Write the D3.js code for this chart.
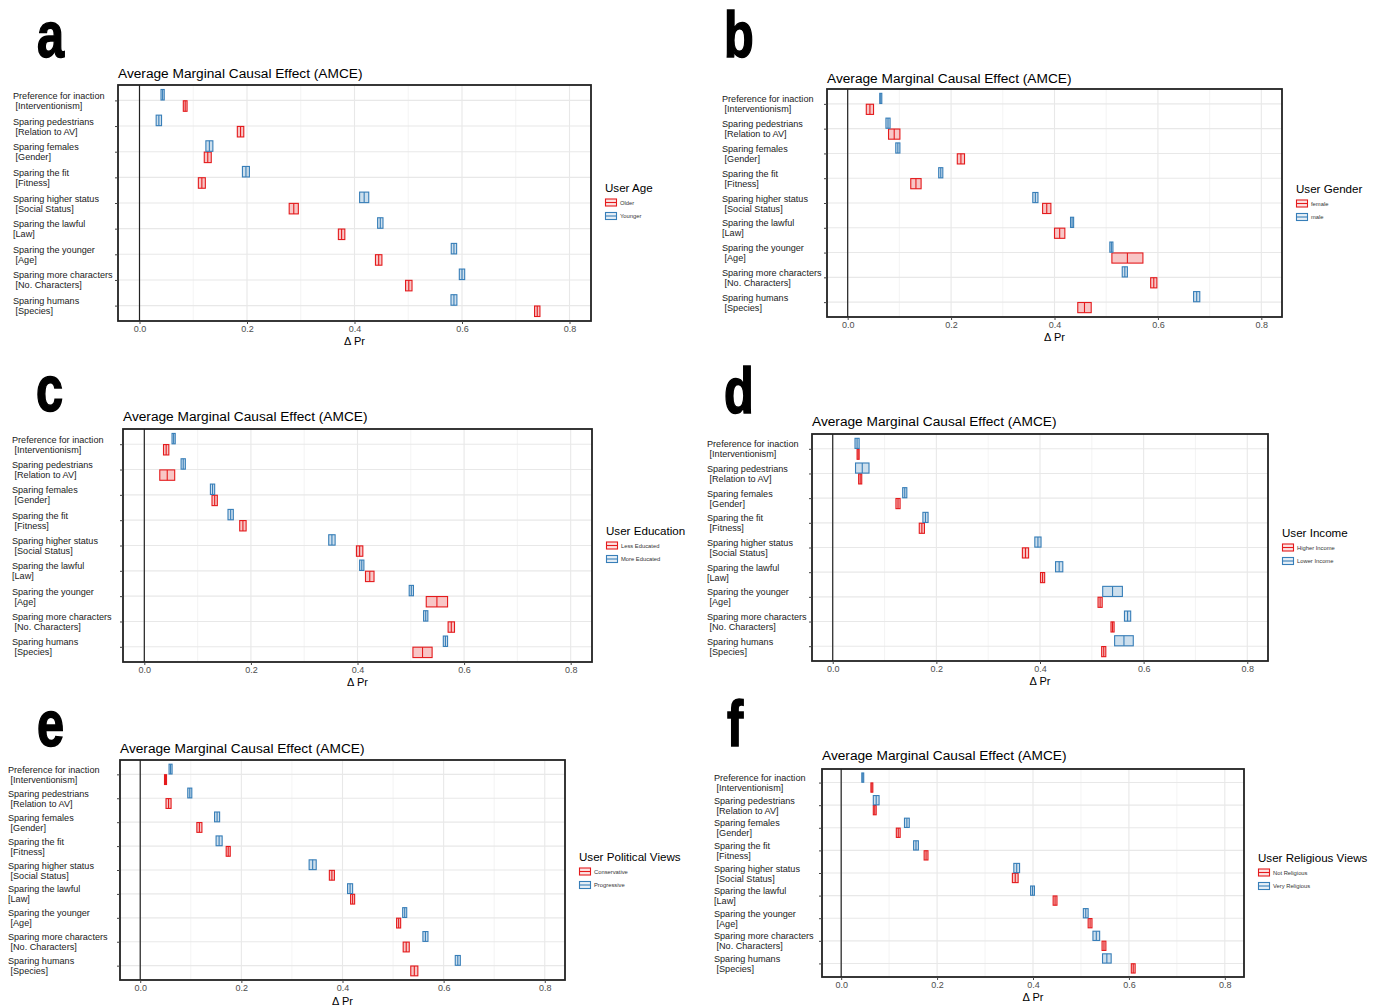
<!DOCTYPE html>
<html><head><meta charset="utf-8">
<script src="https://cdn.jsdelivr.net/npm/d3@7"></script>
<style>
body{margin:0;background:#fff}
svg{display:block}
text{font-family:"Liberation Sans",Arial,Helvetica,sans-serif;white-space:pre}
</style>
</head><body>
<svg id="chart" width="1380" height="1007"></svg>
<script>
// ---------------- DATA ----------------
const categories = [
  ["Preference for inaction", " [Interventionism]"],
  ["Sparing pedestrians", " [Relation to AV]"],
  ["Sparing females", " [Gender]"],
  ["Sparing the fit", " [Fitness]"],
  ["Sparing higher status", " [Social Status]"],
  ["Sparing the lawful", "[Law]"],
  ["Sparing the younger", " [Age]"],
  ["Sparing more characters", " [No. Characters]"],
  ["Sparing humans", " [Species]"]
];
const tickValues = [0, 0.2, 0.4, 0.6, 0.8];
const minorTicks = [0.1, 0.3, 0.5, 0.7];
const panelLetters = ["a", "b", "c", "d", "e", "f"];
const chartTitle = "Average Marginal Causal Effect (AMCE)";
const axisTitle = "\u0394 Pr";
const legendTitles = ["User Age", "User Gender", "User Education", "User Income", "User Political Views", "User Religious Views"];
const legendLabels = [
  ["Older", "Younger"],
  ["female", "male"],
  ["Less Educated", "More Educated"],
  ["Higher Income", "Lower Income"],
  ["Conservative", "Progressive"],
  ["Not Religious", "Very Religious"]
];

// panel a: User Age
const ageOlder      = [0.085, 0.188, 0.127, 0.116, 0.287, 0.376, 0.445, 0.501, 0.740];
const ageOlderCI    = [0.0035, 0.006, 0.0065, 0.0065, 0.0085, 0.006, 0.006, 0.006, 0.005];
const ageYounger    = [0.043, 0.036, 0.130, 0.198, 0.418, 0.448, 0.585, 0.600, 0.585];
const ageYoungerCI  = [0.003, 0.005, 0.0065, 0.0065, 0.0085, 0.005, 0.005, 0.005, 0.0055];
// panel b: User Gender
const genderFemale    = [0.043, 0.090, 0.219, 0.132, 0.385, 0.410, 0.541, 0.592, 0.458];
const genderFemaleCI  = [0.007, 0.011, 0.007, 0.010, 0.008, 0.010, 0.030, 0.006, 0.013];
const genderMale      = [0.064, 0.078, 0.097, 0.180, 0.363, 0.434, 0.510, 0.536, 0.675];
const genderMaleCI    = [0.002, 0.004, 0.004, 0.004, 0.005, 0.003, 0.003, 0.005, 0.006];
// panel c: User Education
const eduLess     = [0.041, 0.043, 0.132, 0.185, 0.404, 0.423, 0.549, 0.576, 0.522];
const eduLessCI   = [0.005, 0.014, 0.005, 0.006, 0.006, 0.008, 0.020, 0.006, 0.018];
const eduMore     = [0.055, 0.073, 0.128, 0.162, 0.352, 0.408, 0.501, 0.528, 0.565];
const eduMoreCI   = [0.003, 0.004, 0.004, 0.005, 0.006, 0.004, 0.004, 0.004, 0.004];
// panel d: User Income
const incomeHigher    = [0.049, 0.053, 0.126, 0.172, 0.372, 0.405, 0.516, 0.540, 0.523];
const incomeHigherCI  = [0.002, 0.003, 0.004, 0.005, 0.006, 0.004, 0.004, 0.003, 0.004];
const incomeLower     = [0.047, 0.057, 0.139, 0.179, 0.396, 0.437, 0.540, 0.569, 0.562];
const incomeLowerCI   = [0.004, 0.013, 0.004, 0.005, 0.006, 0.007, 0.019, 0.006, 0.018];
// panel e: User Political Views
const polConservative   = [0.050, 0.056, 0.117, 0.174, 0.379, 0.420, 0.511, 0.526, 0.542];
const polConservativeCI = [0.002, 0.005, 0.005, 0.004, 0.005, 0.004, 0.004, 0.006, 0.007];
const polProgressive    = [0.060, 0.098, 0.152, 0.156, 0.341, 0.415, 0.523, 0.564, 0.628];
const polProgressiveCI  = [0.003, 0.004, 0.005, 0.006, 0.007, 0.005, 0.004, 0.005, 0.005];
// panel f: User Religious Views
const relNot      = [0.064, 0.070, 0.119, 0.177, 0.363, 0.446, 0.519, 0.548, 0.609];
const relNotCI    = [0.002, 0.003, 0.004, 0.004, 0.006, 0.004, 0.004, 0.004, 0.004];
const relVery     = [0.045, 0.073, 0.137, 0.156, 0.366, 0.399, 0.510, 0.532, 0.554];
const relVeryCI   = [0.002, 0.006, 0.005, 0.005, 0.006, 0.004, 0.005, 0.007, 0.009];

const panelSeries = [
  [[ageOlder, ageOlderCI], [ageYounger, ageYoungerCI]],
  [[genderFemale, genderFemaleCI], [genderMale, genderMaleCI]],
  [[eduLess, eduLessCI], [eduMore, eduMoreCI]],
  [[incomeHigher, incomeHigherCI], [incomeLower, incomeLowerCI]],
  [[polConservative, polConservativeCI], [polProgressive, polProgressiveCI]],
  [[relNot, relNotCI], [relVery, relVeryCI]]
];

// ---------------- LAYOUT / STYLE ----------------
const seriesColors = ["#E41A1C", "#377EB8"];
const layout = [
  {x0:118, y0:85,  x1:591,  y1:321, letterX:37,  letterY:57,  titleY:78,  labelX:13,  legX:605,  legY:192, axY:345},
  {x0:827, y0:89,  x1:1282, y1:317, letterX:724, letterY:57,  titleY:83,  labelX:722, legX:1296, legY:193, axY:341},
  {x0:123, y0:429, x1:592,  y1:662, letterX:36,  letterY:411, titleY:421, labelX:12,  legX:606,  legY:535, axY:686},
  {x0:812, y0:434, x1:1268, y1:661, letterX:724, letterY:413, titleY:426, labelX:707, legX:1282, legY:537, axY:685},
  {x0:120, y0:760, x1:565,  y1:980, letterX:37,  letterY:746, titleY:753, labelX:8,   legX:579,  legY:861, axY:1004.6},
  {x0:822, y0:769, x1:1244, y1:977, letterX:727, letterY:746, titleY:760, labelX:714, legX:1258, legY:862, axY:1001}
];

const svg = d3.select("#chart");
svg.append("rect").attr("width", 1380).attr("height", 1007).attr("fill", "#fff");

panelSeries.forEach((series, i) => {
  const L = layout[i];
  const g = svg.append("g");
  const x = d3.scaleLinear().domain([-0.04, 0.84]).range([L.x0, L.x1]);
  const y = d3.scalePoint().domain(d3.range(categories.length)).range([L.y0, L.y1]).padding(0.6);
  const step = y.step();

  // panel letter (heavy, condensed)
  g.append("text")
    .attr("transform", `translate(${L.letterX},${L.letterY}) scale(0.76,1)`)
    .attr("font-weight", "bold").attr("font-size", 64)
    .attr("stroke", "#000").attr("stroke-width", 1.6)
    .text(panelLetters[i]);

  // title
  g.append("text").attr("x", L.x0).attr("y", L.titleY)
    .attr("font-size", 13.7).attr("fill", "#000").text(chartTitle);

  // background grid
  const grid = g.append("g");
  grid.selectAll("line.minor").data(minorTicks).join("line")
    .attr("x1", d => x(d)).attr("x2", d => x(d)).attr("y1", L.y0).attr("y2", L.y1)
    .attr("stroke", "#ededed").attr("stroke-width", 0.6);
  grid.selectAll("line.major").data(tickValues).join("line")
    .attr("x1", d => x(d)).attr("x2", d => x(d)).attr("y1", L.y0).attr("y2", L.y1)
    .attr("stroke", "#e8e8e8").attr("stroke-width", 1.1);
  grid.selectAll("line.h").data(y.domain()).join("line")
    .attr("x1", L.x0).attr("x2", L.x1).attr("y1", d => y(d)).attr("y2", d => y(d))
    .attr("stroke", "#e8e8e8").attr("stroke-width", 1.1);

  // zero line
  g.append("line").attr("x1", x(0)).attr("x2", x(0)).attr("y1", L.y0).attr("y2", L.y1)
    .attr("stroke", "#222").attr("stroke-width", 1.2);

  // crossbars
  const h = step * 0.41;
  const off = [step * 0.22, -step * 0.22];
  series.forEach(([est, ci], s) => {
    const col = seriesColors[s];
    const bars = g.append("g");
    const rows = est.map((v, k) => ({k, v, lo: v - ci[k], hi: v + ci[k]}));
    bars.selectAll("rect").data(rows).join("rect")
      .attr("x", d => x(d.lo)).attr("width", d => Math.max(0.5, x(d.hi) - x(d.lo)))
      .attr("y", d => y(d.k) + off[s] - h / 2).attr("height", h)
      .attr("fill", col).attr("fill-opacity", 0.25)
      .attr("stroke", col).attr("stroke-width", 1.1);
    bars.selectAll("line").data(rows).join("line")
      .attr("x1", d => x(d.v)).attr("x2", d => x(d.v))
      .attr("y1", d => y(d.k) + off[s] - h / 2).attr("y2", d => y(d.k) + off[s] + h / 2)
      .attr("stroke", col).attr("stroke-width", 1.1);
  });

  // panel border
  g.append("rect").attr("x", L.x0).attr("y", L.y0).attr("width", L.x1 - L.x0).attr("height", L.y1 - L.y0)
    .attr("fill", "none").attr("stroke", "#222").attr("stroke-width", 1.8);

  // x axis
  const xa = g.append("g").attr("transform", `translate(0,${L.y1})`)
    .call(d3.axisBottom(x).tickValues(tickValues).tickFormat(d3.format(".1f")).tickSize(3).tickPadding(2));
  xa.select(".domain").remove();
  xa.selectAll(".tick line").attr("stroke", "#444");
  xa.selectAll(".tick text").attr("font-size", 9).attr("fill", "#4d4d4d")
    .attr("font-family", null);

  // y axis ticks
  const ya = g.append("g").attr("transform", `translate(${L.x0},0)`)
    .call(d3.axisLeft(y).tickSize(3).tickFormat(""));
  ya.select(".domain").remove();
  ya.selectAll(".tick line").attr("stroke", "#444");

  // category labels
  const lab = g.append("g");
  categories.forEach((c, k) => {
    const t = lab.append("text").attr("x", L.labelX).attr("y", y(k) - 1.5)
      .attr("font-size", 9.1).attr("fill", "#1a1a1a");
    t.append("tspan").attr("x", L.labelX).attr("dy", 0).text(c[0]);
    t.append("tspan").attr("x", L.labelX).attr("dy", 10).text(c[1]);
  });

  // axis title
  g.append("text").attr("x", (x(0) + x(0.8)) / 2).attr("y", L.axY)
    .attr("text-anchor", "middle").attr("font-size", 11).attr("fill", "#000").text(axisTitle);

  // legend
  const lg = g.append("g");
  lg.append("text").attr("x", L.legX).attr("y", L.legY).attr("font-size", 11.6).attr("fill", "#000")
    .text(legendTitles[i]);
  legendLabels[i].forEach((lbl, s) => {
    const cy = L.legY + 10.5 + s * 13.5;
    const col = seriesColors[s];
    lg.append("rect").attr("x", L.legX + 0.5).attr("y", cy - 3.5).attr("width", 11).attr("height", 7)
      .attr("fill", col).attr("fill-opacity", 0.12).attr("stroke", col).attr("stroke-width", 1.1);
    lg.append("line").attr("x1", L.legX + 0.5).attr("x2", L.legX + 11.5).attr("y1", cy).attr("y2", cy)
      .attr("stroke", col).attr("stroke-width", 1.1);
    lg.append("text").attr("x", L.legX + 15).attr("y", cy + 2).attr("font-size", 5.8).attr("fill", "#333")
      .text(lbl);
  });
});
</script>
</body></html>
